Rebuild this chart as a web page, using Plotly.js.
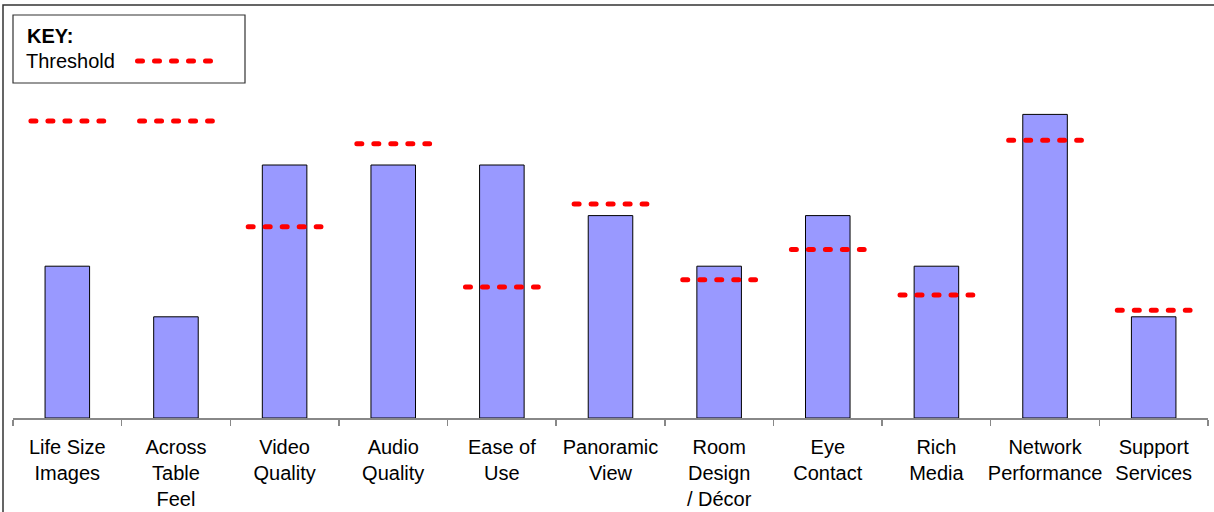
<!DOCTYPE html>
<html>
<head>
<meta charset="utf-8">
<script src="https://cdn.plot.ly/plotly-3.0.1.min.js"></script>
<style>
html,body{margin:0;padding:0;background:#fff;}
#chart{width:1214px;height:512px;}
.shapelayer path{stroke-linecap:round;}
</style>
</head>
<body>
<div id="chart"></div>
<script>
const categories = ["Life Size<br>Images","Across<br>Table<br>Feel","Video<br>Quality","Audio<br>Quality","Ease of<br>Use","Panoramic<br>View","Room<br>Design<br>/ Décor","Eye<br>Contact","Rich<br>Media","Network<br>Performance","Support<br>Services"];
const scores = [3, 2, 5, 5, 5, 4, 3, 4, 3, 6, 2];
const thresholds = [5.87, 5.87, 3.78, 5.42, 2.59, 4.23, 2.73, 3.33, 2.43, 5.49, 2.13];
const legendTitle = "KEY:";
const legendLabel = "Threshold";

const W = 1214, H = 512;
const L = 13, R = 6, T = 20, B = 94;
const pw = W - L - R, ph = H - T - B;
const unit = 50.6;
const yMax = ph / unit;
const px2x = p => (p - L) / pw;
const px2y = p => (H - B - p) / ph;

const red = "#FF0000";
const dashStyle = "5px,12px";
const half = 0.335;

const shapes = thresholds.map((t, i) => ({
  type: "line", xref: "x", yref: "y",
  x0: i - half, x1: i + half, y0: t, y1: t,
  line: {color: red, width: 5, dash: dashStyle},
  layer: "above"
}));

// outer frame
shapes.push({type: "rect", xref: "paper", yref: "paper",
  x0: px2x(3), x1: 1.2, y0: -0.5, y1: px2y(5),
  line: {color: "#333333", width: 1.5}, fillcolor: "rgba(0,0,0,0)", layer: "above"});
// legend box
shapes.push({type: "rect", xref: "paper", yref: "paper",
  x0: px2x(13), x1: px2x(245), y0: px2y(83), y1: px2y(15),
  line: {color: "#333333", width: 1.2}, fillcolor: "#ffffff", layer: "above"});
// legend dash
shapes.push({type: "line", xref: "paper", yref: "paper",
  x0: px2x(137.5), x1: px2x(210.5), y0: px2y(61), y1: px2y(61),
  line: {color: red, width: 5, dash: dashStyle}, layer: "above"});

const font = "'Liberation Sans', Arial, sans-serif";

const data = [{
  type: "bar",
  x: categories,
  y: scores,
  width: 0.41,
  marker: {color: "#9999FF", line: {color: "#000000", width: 1}},
  hoverinfo: "x+y",
  showlegend: false
}];

const layout = {
  width: W, height: H,
  margin: {l: L, r: R, t: T, b: B, pad: 0},
  paper_bgcolor: "#ffffff",
  plot_bgcolor: "#ffffff",
  font: {family: font, size: 20, color: "#000000"},
  showlegend: false,
  xaxis: {
    type: "category",
    showline: true, linecolor: "#888888", linewidth: 1.5,
    ticks: "outside", tickson: "boundaries", ticklen: 6, tickcolor: "#888888", tickwidth: 1.5,
    tickangle: 0, ticklabelstandoff: 10,
    showgrid: false, zeroline: false,
    tickfont: {family: font, size: 20, color: "#000000"},
    fixedrange: true
  },
  yaxis: {
    range: [0, yMax],
    showline: false, showgrid: false, zeroline: false, showticklabels: false, ticks: "",
    fixedrange: true
  },
  shapes: shapes,
  annotations: [
    {xref: "paper", yref: "paper", x: px2x(25), y: px2y(36), xanchor: "left", yanchor: "middle",
     text: "<b>" + legendTitle + "</b>", showarrow: false, font: {family: font, size: 20, color: "#000"}},
    {xref: "paper", yref: "paper", x: px2x(24), y: px2y(61), xanchor: "left", yanchor: "middle",
     text: legendLabel, showarrow: false, font: {family: font, size: 20, color: "#000"}}
  ],
  bargap: 0.59
};

Plotly.newPlot("chart", data, layout, {displayModeBar: false, staticPlot: true});
</script>
</body>
</html>
